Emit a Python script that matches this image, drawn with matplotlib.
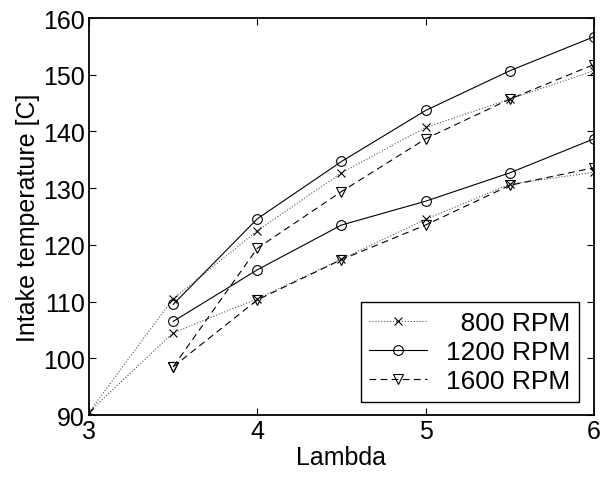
import numpy as np
import matplotlib
matplotlib.use('Agg')
import matplotlib.pyplot as plt

plt.rcParams['font.family'] = ['Liberation Sans', 'DejaVu Sans']

# Lambda values
lam_800 = [3, 3.5, 4, 4.5, 5, 5.5, 6]
lam = [3.5, 4, 4.5, 5, 5.5, 6]

# Intake temperature [C], two curves for each engine speed
t800_hi = [90.5, 110.5, 122.5, 132.7, 140.7, 145.7, 150.7]
t800_lo = [90.5, 104.5, 110.5, 117.5, 124.5, 130.7, 132.8]
t1200_hi = [109.5, 124.6, 134.7, 143.7, 150.7, 156.7]
t1200_lo = [106.5, 115.6, 123.5, 127.7, 132.7, 138.7]
t1600_hi = [98.5, 119.4, 129.4, 138.7, 145.7, 151.8]
t1600_lo = [98.5, 110.3, 117.4, 123.5, 130.5, 133.6]

# figure space in front of 800 keeps the labels right-aligned
labels = ['\u2007800 RPM', '1200 RPM', '1600 RPM']

fig = plt.figure(figsize=(6.12, 4.81), dpi=100)
ax = fig.add_axes([89/612, 1-416/481, (594-89)/612, (416-19)/481])

lw = 0.8
ms = 7
st800 = dict(color='#555555', linestyle=':', marker='x', markersize=6, lw=lw,
             markeredgecolor='black', markeredgewidth=0.8)
st1200 = dict(color='black', linestyle='-', marker='o', markersize=ms, lw=lw,
              markerfacecolor='none', markeredgewidth=0.8)
st1600 = dict(color='black', linestyle=(0, (6, 4)), marker='v', markersize=ms, lw=lw,
              markerfacecolor='none', markeredgewidth=0.8)

l1, = ax.plot(lam_800, t800_hi, **st800)
ax.plot(lam_800, t800_lo, **st800)
l2, = ax.plot(lam, t1200_hi, **st1200)
ax.plot(lam, t1200_lo, **st1200)
l3, = ax.plot(lam, t1600_hi, **st1600)
ax.plot(lam, t1600_lo, **st1600)

ax.set_xlim(3, 6)
ax.set_ylim(90, 160)
ax.set_xticks([3, 4, 5, 6])
ax.set_yticks(np.arange(90, 161, 10))
ax.tick_params(direction='in', top=True, right=True, length=5, width=0.8,
               labelsize=18, pad=3)
for s in ax.spines.values():
    s.set_linewidth(1.3)

ax.set_xlabel('Lambda', fontsize=18, labelpad=1)
ax.set_ylabel('Intake temperature [C]', fontsize=18, labelpad=2)

leg = ax.legend([l1, l2, l3], labels, loc='lower right',
                bbox_to_anchor=((579-89)/505, (416-403)/397), borderaxespad=0,
                fontsize=19, fancybox=False, framealpha=1, edgecolor='black',
                handlelength=2.2, labelspacing=0.2, borderpad=0.33,
                handletextpad=0.7)
leg.get_frame().set_linewidth(1.0)

fig.savefig('out.png', dpi=100)
